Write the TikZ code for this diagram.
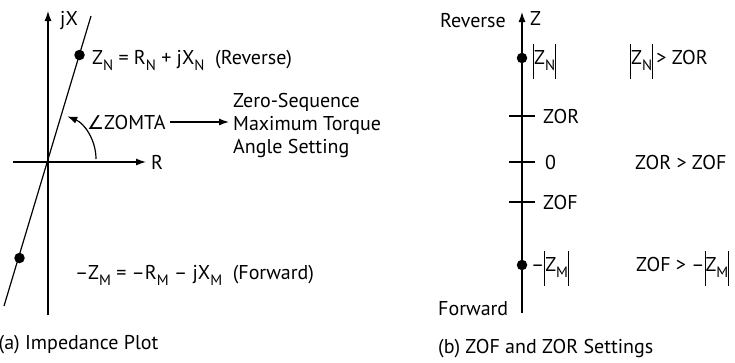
\documentclass[tikz,border=0pt]{standalone}
\usepackage{fontspec}
\setmainfont{PT Sans}
\newfontfamily\djv{DejaVu Sans}
\usetikzlibrary{arrows.meta}
\newcommand\sbs[1]{\raisebox{-0.32em}{\fontsize{15}{15}\selectfont #1}}
\newcommand\vbarr{\rule[-0.75em]{0.9pt}{1.75em}}
\tikzset{
  ln/.style={line width=1.2pt},
  tip/.style={-{Latex[length=10pt,width=7pt]}},
  txt/.style={inner sep=0pt, anchor=base west, font=\fontsize{20}{24}\selectfont},
  dotc/.style={fill=black, draw=none, circle, inner sep=0pt, minimum size=10.5pt},
}
\begin{document}
\begin{tikzpicture}[x=1pt,y=-1pt]
\useasboundingbox (0,0) rectangle (735,362);
% ---------- (a) ----------
\coordinate (O) at (48,162);
\coordinate (jXtop) at (48,11);
\coordinate (jXbot) at (48,315);
\coordinate (Rl) at (13,162);
\coordinate (Rr) at (146,162);
\coordinate (Lt) at (91,16);
\coordinate (Lb) at (4,306);
\draw[ln,tip] (jXbot) -- (jXtop);
\draw[ln,tip] (Rl) -- (Rr);
\draw[ln] (Lb) -- (Lt);
\node[dotc] (dN) at (79.5,55) {};
\node[dotc] (dM) at (19.5,258) {};
\draw[ln,tip] (96,159) arc[start angle=0, end angle=-68, radius=46];
\node[txt] (jX) at (60,25) {jX};
\node[txt] (R) at (151,169) {R};
\node[txt] (zn) at (92,64) {Z\sbs{N} = R\sbs{N} + jX\sbs{N}\ \ (Reverse)};
\node[txt] (mta) at (87,129) {{\djv\fontsize{19}{19}\selectfont ∠}ZOMTA};
\node[txt] (l1) at (233,107) {Zero-Sequence};
\node[txt] (l2) at (233,130) {Maximum Torque};
\node[txt] (l3) at (233,153) {Angle Setting};
\draw[ln,tip] ([xshift=4pt]mta.east) -- ([xshift=-4pt]l2.west |- mta.east);
\node[txt] (zm) at (75,279) {–Z\sbs{M} = –R\sbs{M} – jX\sbs{M}\ \ (Forward)};
\node[txt] (capa) at (-1.5,349) {(a) Impedance Plot};
% ---------- (b) ----------
\coordinate (Zt) at (522,12);
\coordinate (Zb) at (522,313);
\draw[ln,tip] (Zb) -- (Zt);
\node[txt] (rev) at (440,27) {Reverse};
\node[txt] (Z) at (530,25) {Z};
\node[dotc] (dzn) at (522,58) {};
\node[dotc] (dzm) at (522,265) {};
\draw[ln] (509,116) -- (535,116);
\draw[ln] (509,162) -- (535,162);
\draw[ln] (509,202) -- (535,202);
\node[txt] (nzn) at (533,64) {\vbarr Z\sbs{N}\vbarr};
\node[txt] (czn) at (630,64) {\vbarr Z\sbs{N}\vbarr\,> ZOR};
\node[txt] (zor) at (543,123) {ZOR};
\node[txt] (z0) at (545,169) {0};
\node[txt] (c0) at (635,169) {ZOR > ZOF};
\node[txt] (zof) at (543,209) {ZOF};
\node[txt] (nzm) at (531,271) {–\vbarr Z\sbs{M}\vbarr};
\node[txt] (czm) at (636,271) {ZOF > –\vbarr Z\sbs{M}\vbarr};
\node[txt] (fwd) at (438,315) {Forward};
\node[txt] (capb) at (438,353) {(b) ZOF and ZOR Settings};
\end{tikzpicture}
\end{document}
